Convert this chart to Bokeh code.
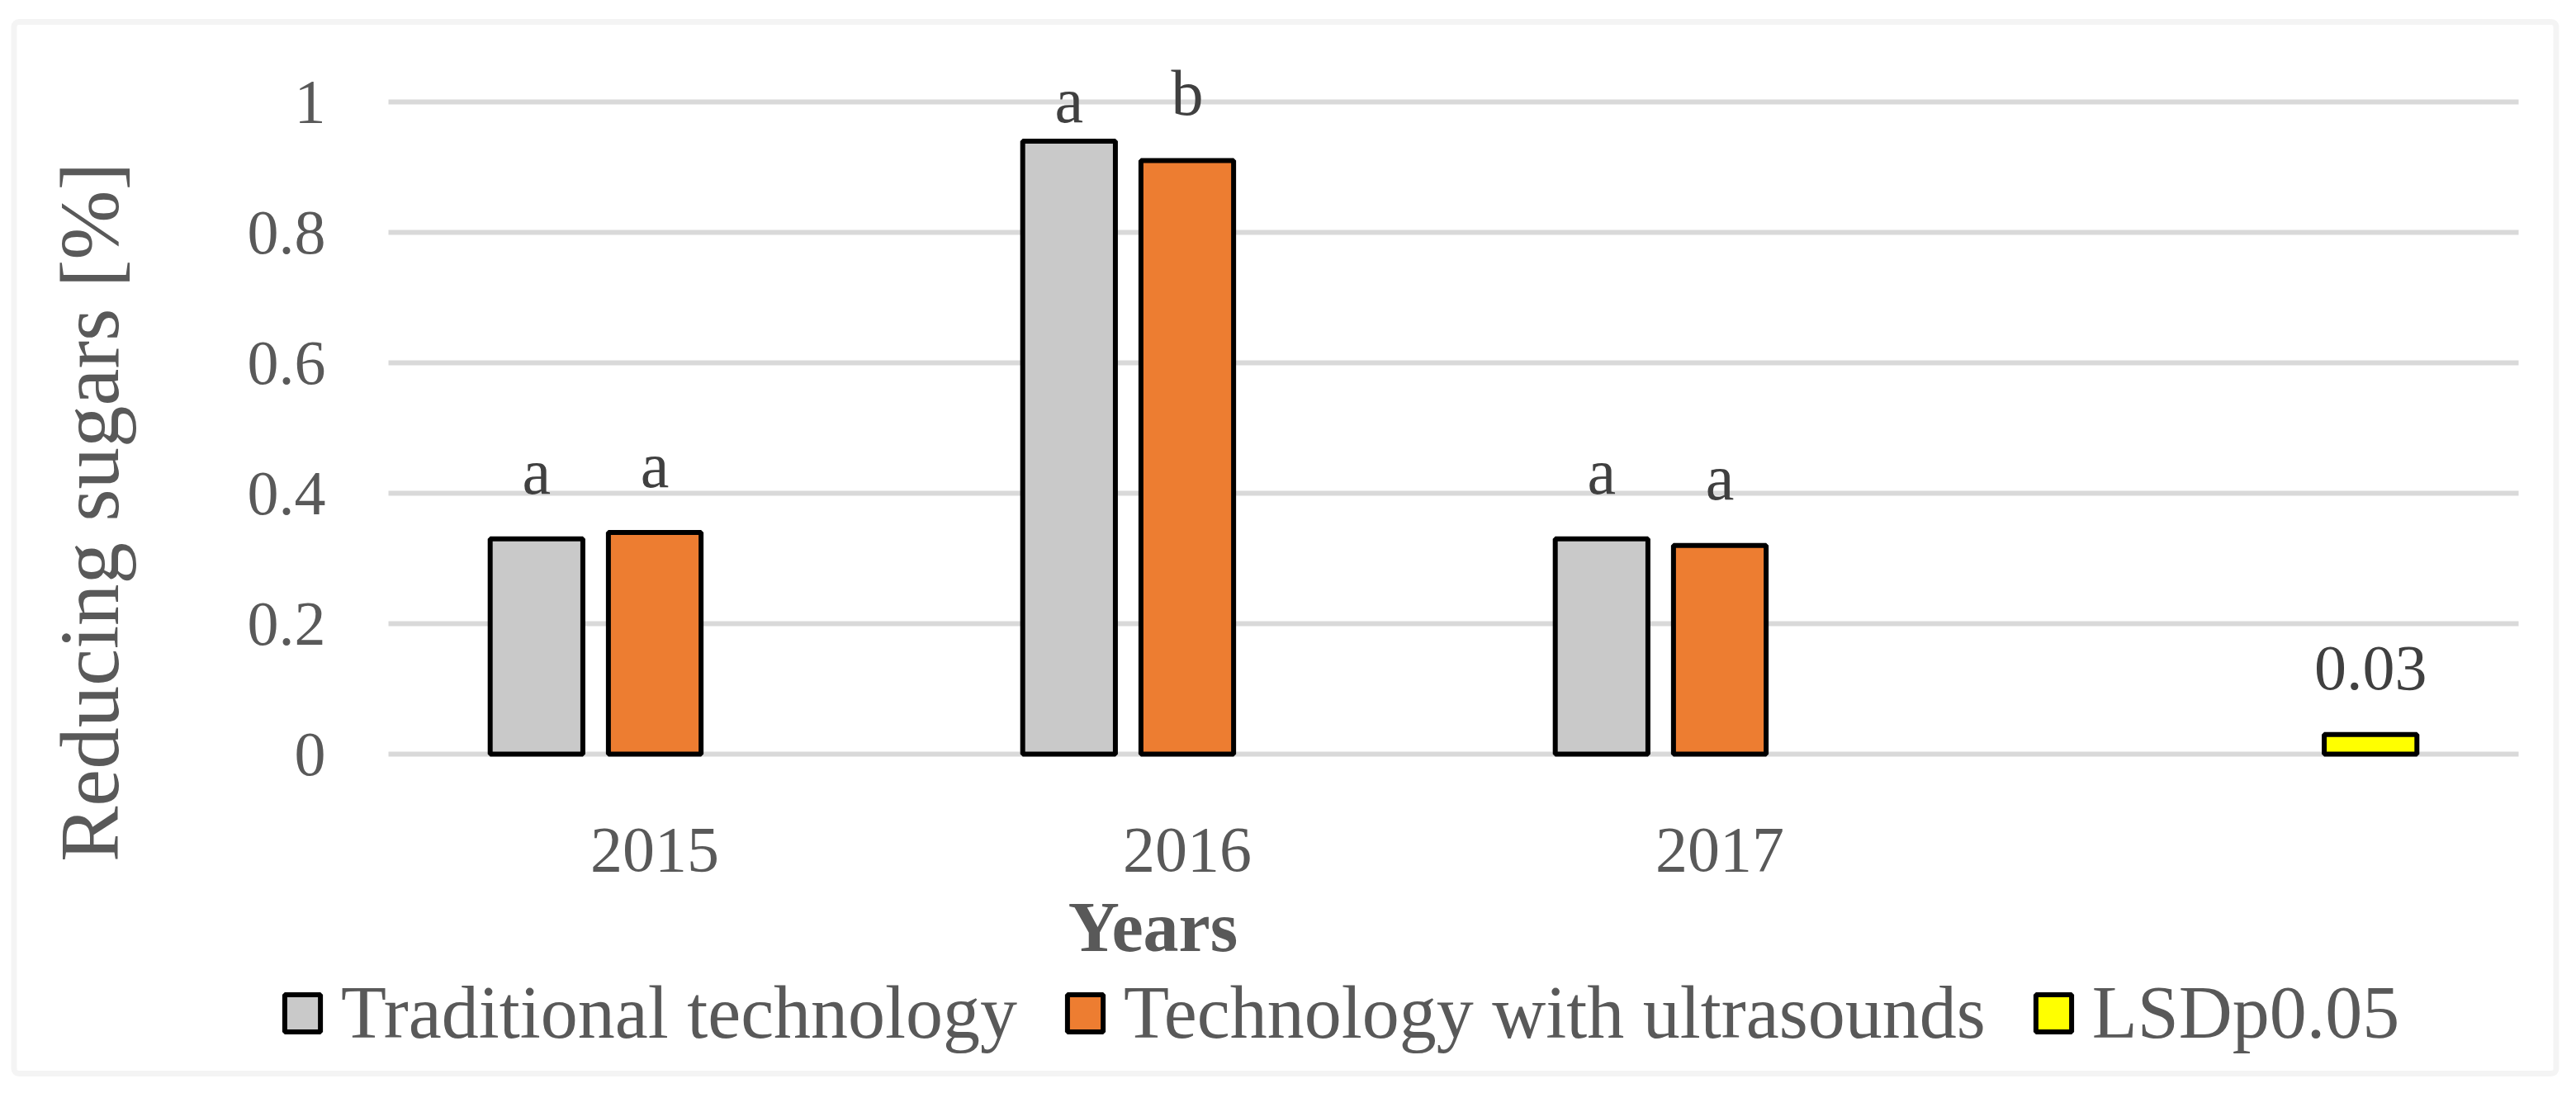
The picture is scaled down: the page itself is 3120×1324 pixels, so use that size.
from math import pi
from bokeh.plotting import figure
from bokeh.models import (ColumnDataSource, Range1d, FixedTicker, NumeralTickFormatter,
                          LabelSet, Label, Legend, LegendItem, BoxAnnotation)
from bokeh.core.properties import value
from bokeh.embed import file_html
from bokeh.resources import INLINE

# ---------------- data ----------------
years = ["2015", "2016", "2017", ""]
traditional = [0.33, 0.94, 0.33, None]
ultrasounds = [0.34, 0.91, 0.32, None]
lsd = [None, None, None, 0.03]
letters_traditional = ["a", "a", "a", ""]
letters_ultrasounds = ["a", "b", "a", ""]
series_names = ["Traditional technology", "Technology with ultrasounds", "LSDp0.05"]
y_ticks = [0, 0.2, 0.4, 0.6, 0.8, 1.0]

# ---------------- layout constants (pixels of the page) ----------------
W, H = 3104, 1310          # canvas size
ORG = 0                    # page offset of the canvas
PX_X, PX_Y = 645, 790      # pixels per data unit
X0, Y0 = 470, 913          # page position of data (0, 0)

def dx(px):                 # page x -> data x
    return (px - X0) / PX_X

def dy(py):                 # page y -> data y
    return (Y0 - py) / PX_Y

OFFSETS = [-0.222, 0.0, 0.222]
BAR_W = 0.174
LIFT = 0.07
LIFT_TRAD = [0.07, 0.029, 0.07, 0.07]
FONT = "Liberation Serif"
GRAY_TXT = "#595959"
DARK_TXT = "#404040"
GRID = "#d9d9d9"
COLORS = ["#c9c9c9", "#ed7d31", "#ffff00"]

p = figure(width=W, height=H,
           x_range=Range1d(dx(ORG), dx(ORG + W)), y_range=Range1d(dy(ORG + H), dy(ORG)),
           output_backend="svg", toolbar_location=None, min_border=0)
p.outline_line_color = None
p.xgrid.visible = False
p.ygrid.visible = False

# gridlines from the tick values
p.segment(x0=0, x1=len(years), y0=y_ticks, y1=y_ticks, line_color=GRID, line_width=6,
          level="underlay")

def make_source(vals, offset, letters, lifts):
    xs, tops, labs, ly = [], [], [], []
    for i, v in enumerate(vals):
        if v is None:
            continue
        xs.append(i + 0.5 + offset)
        tops.append(v)
        labs.append(letters[i])
        ly.append(v + lifts[i])
    return ColumnDataSource(dict(x=xs, top=tops, lab=labs, ly=ly))

src_t = make_source(traditional, OFFSETS[0], letters_traditional, LIFT_TRAD)
src_u = make_source(ultrasounds, OFFSETS[1], letters_ultrasounds, [LIFT] * 4)
src_l = make_source(lsd, OFFSETS[2], [f"{v:.2f}" if v is not None else "" for v in lsd], [LIFT] * 4)

renderers = []
for src, col in zip([src_t, src_u, src_l], COLORS):
    r = p.vbar(x="x", top="top", bottom=0, width=BAR_W, source=src,
               fill_color=col, line_color="black", line_width=6)
    renderers.append(r)

for src in [src_t, src_u, src_l]:
    p.add_layout(LabelSet(x="x", y="ly", text="lab", source=src, text_align="center",
                          text_baseline="alphabetic", text_font=value(FONT),
                          text_font_size="78px", text_color=DARK_TXT))

# axes (drawn at the data origin)
xa = p.xaxis[0]
ya = p.yaxis[0]
xa.ticker = FixedTicker(ticks=[i + 0.5 for i in range(3)])
xa.major_label_overrides = {i + 0.5: years[i] for i in range(3)}
xa.fixed_location = 0
ya.ticker = FixedTicker(ticks=y_ticks)
ya.formatter = NumeralTickFormatter(format="0.[0]")
ya.fixed_location = 0
for ax in (xa, ya):
    ax.axis_line_color = None
    ax.major_tick_line_color = None
    ax.minor_tick_line_color = None
    ax.major_tick_out = 0
    ax.major_tick_in = 0
    ax.major_label_text_font = FONT
    ax.major_label_text_color = GRAY_TXT
xa.major_label_text_font_size = "78px"
xa.major_label_standoff = 90
ya.major_label_text_font_size = "76px"
ya.major_label_standoff = 76

# axis titles
p.add_layout(Label(x=dx(108), y=dy(620), text="Reducing sugars [%]", angle=pi / 2,
                   text_align="center", text_baseline="middle", text_font=FONT,
                   text_font_size="101px", text_color=GRAY_TXT))
p.add_layout(Label(x=dx(1396), y=dy(1122), text="Years", text_align="center",
                   text_baseline="alphabetic", text_font=FONT, text_font_style="bold",
                   text_font_size="86px", text_color=GRAY_TXT))

# legend
legend = Legend(items=[LegendItem(label=n, renderers=[r]) for n, r in zip(series_names, renderers)],
                orientation="horizontal", location=(339 - ORG, ORG + H - 1278))
legend.padding = 0
legend.margin = 0
legend.border_line_color = None
legend.background_fill_alpha = 0
legend.glyph_width = 54
legend.glyph_height = 56
legend.label_height = 56
legend.label_standoff = 20
legend.spacing = 55
legend.label_text_font = FONT
legend.label_text_font_size = "90px"
legend.label_text_color = GRAY_TXT
p.add_layout(legend)

# outer chart border
p.add_layout(BoxAnnotation(left=dx(16.5), right=dx(3095.5), top=dy(26), bottom=dy(1300),
                           fill_alpha=0, line_color=GRID, line_width=7, border_radius=6))

open("out.html", "w").write(file_html(p, INLINE))
